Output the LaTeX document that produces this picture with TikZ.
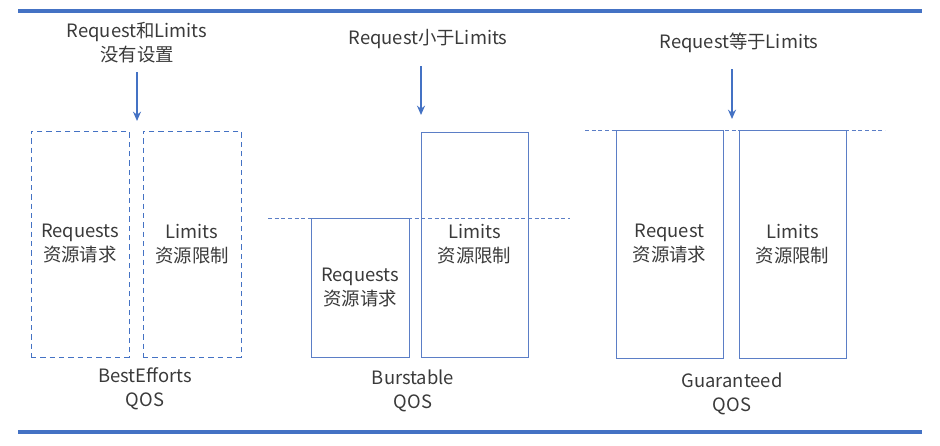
\documentclass[tikz,border=0pt]{standalone}
\usepackage{fontspec}
\setmainfont{Noto Sans CJK SC}
\usetikzlibrary{arrows.meta}
\definecolor{qosblue}{HTML}{4472C4}
\definecolor{qosline}{HTML}{5B7EC6}
\definecolor{qostext}{HTML}{3A3A3A}
\tikzset{
	res/.style={draw=qosline, line width=0.6pt, inner sep=0pt, outer sep=0pt, align=center, text=qostext},
	resdash/.style={res, draw=qosblue, line width=0.75pt, dash pattern=on 4pt off 3pt},
	lbl/.style={align=center, text=qostext, inner sep=0pt},
	level/.style={qosline, line width=0.5pt, dash pattern=on 3pt off 2pt},
	bar/.style={qosblue, line width=3pt},
	down/.style={qosblue, line width=1.5pt, -{Stealth[length=7pt,width=6pt]}}
}
\begin{document}
\begin{tikzpicture}[x=0.75pt, y=-0.75pt, font=\fontsize{13.8}{18}\selectfont]
					\useasboundingbox (0,0) rectangle (940,446);
					%%%%%%%%%%%%%%%%%%%%%%%%%%%%%%%%%
					\draw[bar] (18,11) -- (922,11);
					\draw[bar] (18,432) -- (922,432);
					%%%%%%%%%%%%%%%%%%%%%%%%%%%%%%%%%
					% BestEfforts
					\node[lbl] (t1) at (137,43) {Request和Limits\\没有设置};
					\coordinate (a1) at (137,72);
					\coordinate (b1) at (137,121);
					\draw[down] (a1) -- (b1);
					\node[resdash, minimum width=73.5pt, minimum height=169.5pt] (req1) at (80,244) {Requests\\资源请求};
					\node[resdash, minimum width=73.5pt, minimum height=169.5pt] (lim1) at (192,244) {Limits\\资源限制};
					\node[lbl] (q1) at (145,389) {BestEfforts\\QOS};
					%%%%%%%%%%%%%%%%%%%%%%%%%%%%%%%%%
					% Burstable
					\node[lbl] (t2) at (428,39) {Request小于Limits};
					\coordinate (a2) at (421,66);
					\coordinate (b2) at (421,115);
					\draw[down] (a2) -- (b2);
					\node[res, minimum width=73.5pt, minimum height=104.25pt] (req2) at (360,287.5) {Requests\\资源请求};
					\node[res, minimum width=80.25pt, minimum height=168.75pt] (lim2) at (474.5,244.5) {Limits\\资源限制};
					\coordinate (l2a) at (268,218);
					\coordinate (l2b) at (570,218);
					\draw[level] (l2a) -- (l2b);
					\node[lbl] (q2) at (413,391) {Burstable\\QOS};
					%%%%%%%%%%%%%%%%%%%%%%%%%%%%%%%%%
					% Guaranteed
					\node[lbl] (t3) at (739,43) {Request等于Limits};
					\coordinate (a3) at (732,69);
					\coordinate (b3) at (732,119);
					\draw[down] (a3) -- (b3);
					\coordinate (l3a) at (585,130);
					\coordinate (l3b) at (885,130);
					\draw[level] (l3a) -- (l3b);
					\node[res, minimum width=80.25pt, minimum height=171pt] (req3) at (669.5,244) {Request\\资源请求};
					\node[res, minimum width=80.25pt, minimum height=171pt] (lim3) at (792.5,244) {Limits\\资源限制};
					\node[lbl] (q3) at (732,394) {Guaranteed\\QOS};
					%%%%%%%%%%%%%%%%%%%%%%%%%%%%%%%%%
\end{tikzpicture}
\end{document}
